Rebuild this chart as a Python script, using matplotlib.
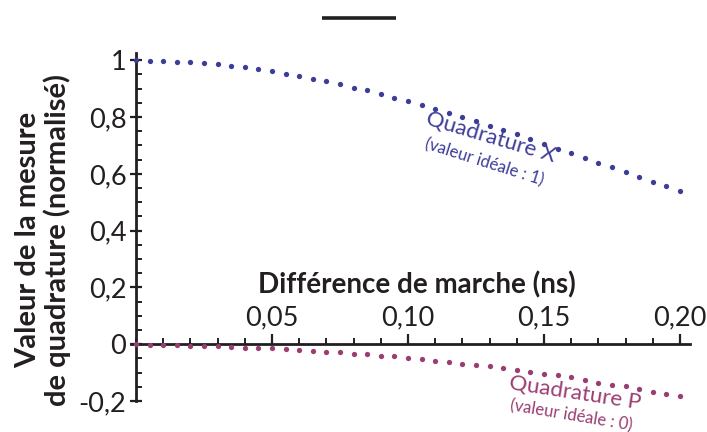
import matplotlib
matplotlib.use("Agg")
import matplotlib.pyplot as plt
from matplotlib.ticker import MultipleLocator, FuncFormatter
from matplotlib.lines import Line2D

plt.rcParams['font.family'] = ['Lato', 'DejaVu Sans']

# Data (x in ns, values normalised)
x_ns = [i * 0.005 for i in range(41)]
quad_x = [1.000, 0.998, 0.998, 0.995, 0.993, 0.991, 0.986, 0.981, 0.975, 0.968,
          0.962, 0.953, 0.944, 0.934, 0.926, 0.915, 0.904, 0.894, 0.881, 0.868,
          0.856, 0.842, 0.829, 0.814, 0.800, 0.785, 0.769, 0.754, 0.739, 0.722,
          0.706, 0.689, 0.673, 0.656, 0.640, 0.624, 0.606, 0.590, 0.573, 0.557,
          0.539]
quad_p = [0.000, -0.002, -0.003, -0.004, -0.005, -0.007, -0.008, -0.010, -0.012, -0.014,
          -0.015, -0.018, -0.021, -0.025, -0.028, -0.028, -0.033, -0.036, -0.040, -0.042,
          -0.047, -0.052, -0.058, -0.063, -0.068, -0.073, -0.077, -0.085, -0.092, -0.097,
          -0.104, -0.110, -0.117, -0.126, -0.135, -0.142, -0.148, -0.157, -0.169, -0.176,
          -0.184]

x_ticks = [0.05, 0.10, 0.15, 0.20]
y_ticks = [-0.2, 0, 0.2, 0.4, 0.6, 0.8, 1]

blue = '#3d3d99'
purple = '#9a3d72'
black = '#231f20'

W, H = 707, 432
fig = plt.figure(figsize=(W / 100, H / 100), dpi=100)
ax_l, ax_r, ax_t, ax_b = 131, 690, 53, 401
ax = fig.add_axes([ax_l / W, 1 - ax_b / H, (ax_r - ax_l) / W, (ax_b - ax_t) / H])
ax.set_xlim(-0.00184, 0.2037)
ax.set_ylim(-0.2, 1.0257)

ax.plot(x_ns, quad_x, linestyle='none', marker='o', markersize=3.8, color=blue,
        markeredgewidth=0, clip_on=False, zorder=3)
ax.plot(x_ns, quad_p, linestyle='none', marker='o', markersize=3.8, color=purple,
        markeredgewidth=0, clip_on=False, zorder=3)

for s in ['right', 'bottom']:
    ax.spines[s].set_visible(False)
ax.spines['left'].set_position(('data', 0))
ax.spines['top'].set_position(('data', 0))
ax.spines['left'].set_linewidth(2.0)
ax.spines['top'].set_linewidth(2.0)
ax.spines['left'].set_color(black)
ax.spines['top'].set_color(black)
ax.spines['left'].set_bounds(-0.2, 1.0257)

ax.xaxis.set_ticks_position('top')
ax.set_xticks(x_ticks)
ax.xaxis.set_minor_locator(MultipleLocator(0.01))
ax.xaxis.set_major_formatter(FuncFormatter(lambda v, p: f"{v:.2f}".replace('.', ',')))
ax.tick_params(axis='x', which='major', direction='out', length=7, width=1.6,
               labelsize=19.5, pad=3, colors=black)
ax.tick_params(axis='x', which='minor', direction='out', length=4, width=1.4, colors=black)

ax.set_yticks(y_ticks)
ax.yaxis.set_minor_locator(MultipleLocator(0.05))
ax.yaxis.set_major_formatter(FuncFormatter(lambda v, p: ('0' if abs(v) < 1e-9 else f"{v:g}".replace('.', ','))))
ax.tick_params(axis='y', which='major', direction='inout', length=9, width=1.6,
               labelsize=19.5, pad=2.5, colors=black)
ax.tick_params(axis='y', which='minor', direction='in', length=4, width=1.4, colors=black)

ax.patch.set_alpha(0)

# Axis labels
ax.text(0.1031, 0.208, 'Différence de marche (ns)', fontsize=20, fontweight='bold',
        ha='center', va='center', color=black)
fig.text(43 / W, 1 - 240 / H, 'Valeur de la mesure\nde quadrature (normalisé)',
         rotation=90, fontsize=21, fontweight='bold', ha='center', va='center',
         multialignment='center', color=black, linespacing=1.12)

# Annotations
ax.text(0.1305, 0.729, 'Quadrature X', color=blue, fontsize=16, rotation=-16.5,
        rotation_mode='anchor', ha='center', va='center')
ax.text(0.1281, 0.640, '(valeur idéale : 1)', color=blue, fontsize=12, rotation=-17.5,
        rotation_mode='anchor', ha='center', va='center')
fig.text(0.1614, -0.1737, 'Quadrature P', color=purple, fontsize=16, rotation=-8.7,
         rotation_mode='anchor', ha='center', va='center', transform=ax.transData)
fig.text(0.160, -0.250, '(valeur idéale : 0)', color=purple, fontsize=12, rotation=-9.5,
         rotation_mode='anchor', ha='center', va='center', transform=ax.transData)

# Top black bar
fig.add_artist(Line2D([322 / W, 396 / W], [1 - 18 / H, 1 - 18 / H], color=black,
                      linewidth=2.6, solid_capstyle='butt'))

fig.savefig('out.png', dpi=100)
